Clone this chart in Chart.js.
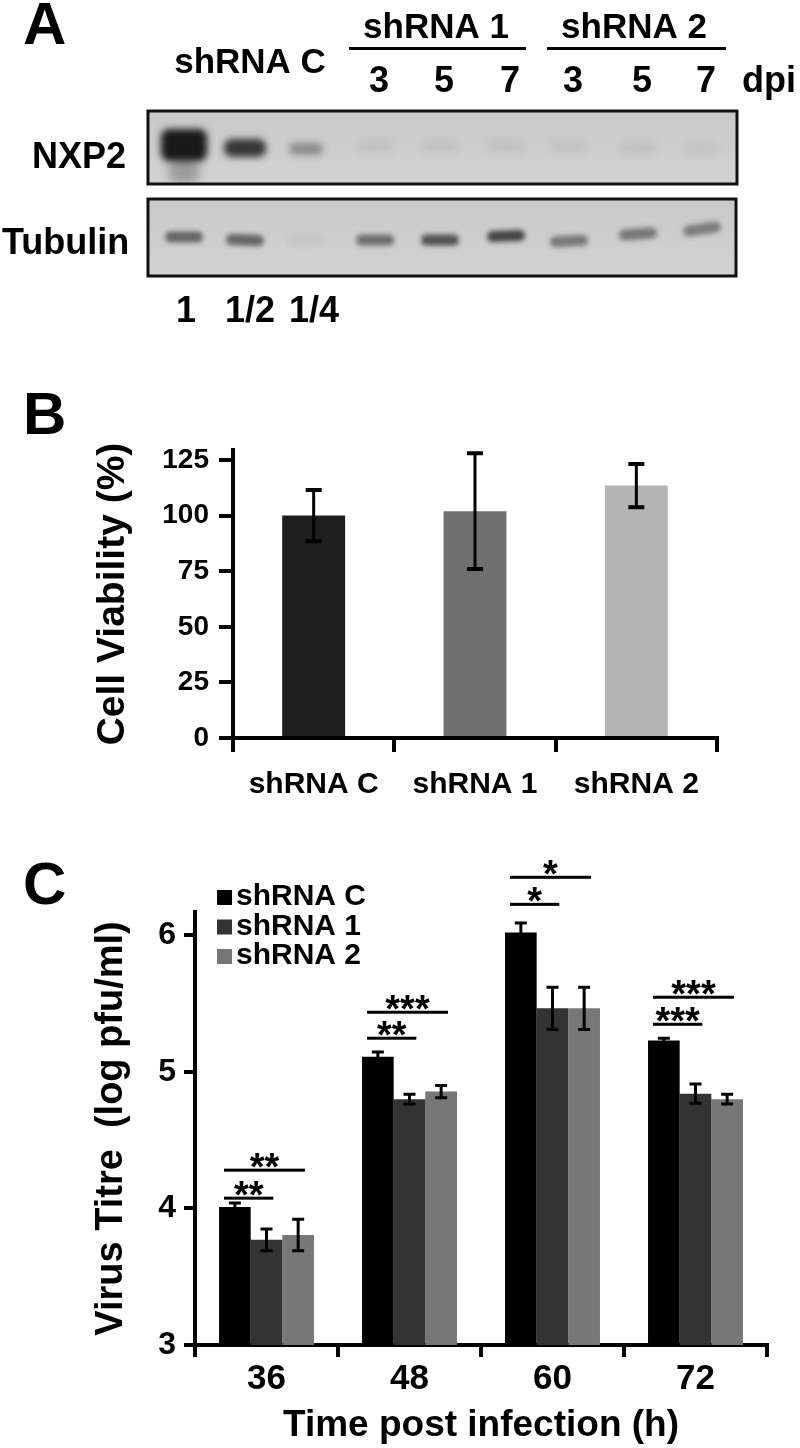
<!DOCTYPE html>
<html>
<head>
<meta charset="utf-8">
<script src="https://cdn.jsdelivr.net/npm/chart.js@4.4.0/dist/chart.umd.min.js"></script>
<style>
  body { margin: 0; background: #fff; width: 800px; height: 1448px; position: relative; overflow: hidden;
         font-family: 'Liberation Sans', Arial, sans-serif; }
  .panel { position: absolute; left: 23px; font-weight: bold; font-size: 60px; line-height: 1; color: #000; }
  canvas { position: absolute; left: 0; }
</style>
</head>
<body>
<div class="panel" style="top:-6px">A</div>
<div class="panel" style="top:384px">B</div>
<div class="panel" style="top:854px">C</div>
<canvas id="blot" width="800" height="340" style="top:0"></canvas>
<canvas id="viabilityChart" width="800" height="440" style="top:380px"></canvas>
<canvas id="titreChart" width="800" height="608" style="top:840px"></canvas>
<script>
// Panel A - western blot band strengths (0 = none, 1 = saturated)
const blotLanes = ['1', '1/2', '1/4', '3', '5', '7', '3', '5', '7'];
const nxp2Strength = [1.0, 0.8, 0.35, 0.06, 0.06, 0.06, 0.05, 0.06, 0.05];
const tubulinStrength = [0.55, 0.55, 0.04, 0.5, 0.65, 0.72, 0.45, 0.45, 0.42];

// Panel B - cell viability
const viabilityLabels = ['shRNA C', 'shRNA 1', 'shRNA 2'];
const viabilityMeans = [100, 102, 113.5];
const viabilityErrors = [11.5, 26, 9.7];
const viabilityTicks = [0, 25, 50, 75, 100, 125];

// Panel C - virus titre
const timeLabels = ['36', '48', '60', '72'];
const seriesNames = ['shRNA C', 'shRNA 1', 'shRNA 2'];
const titreC = [4.01, 5.11, 6.02, 5.23];
const titre1 = [3.77, 4.80, 5.465, 4.84];
const titre2 = [3.805, 4.855, 5.465, 4.80];
const errC = [0.03, 0.035, 0.07, 0.015];
const err1 = [0.08, 0.035, 0.155, 0.07];
const err2 = [0.115, 0.045, 0.155, 0.035];
const titreTicks = [3, 4, 5, 6];
// significance brackets (y in log pfu/ml)
const sigShortY = [4.075, 5.246, 6.226, 5.348];
const sigLongY = [4.28, 5.436, 6.424, 5.546];
const sigShortStars = ['**', '**', '*', '***'];
const sigLongStars = ['**', '***', '*', '***'];

const FONT = "'Liberation Sans', Arial, sans-serif";
Chart.defaults.font.family = FONT;
Chart.defaults.font.weight = 'bold';
Chart.defaults.color = '#000';

// ---------- Panel A ----------
function drawBlot() {
    const ctx = document.getElementById('blot').getContext('2d');
    const laneX = [184, 245, 306, 375, 440, 506, 569, 638, 702];
    const nxpY = [145, 148, 149, 147, 147, 147, 147, 148, 149];
    const nxpW = [46, 42, 34, 38, 38, 38, 38, 38, 36];
    const nxpH = [32, 18, 12, 14, 14, 14, 14, 14, 14];
    const tubY = [237, 240, 240, 240, 240, 236, 241, 234, 229];
    const tubTilt = [0, 0.03, 0, 0, 0, -0.03, -0.05, -0.08, -0.15];

    ctx.fillStyle = '#000';
    ctx.textAlign = 'center';
    ctx.textBaseline = 'alphabetic';
    ctx.font = 'bold 35px ' + FONT;
    ctx.fillText('shRNA C', 250, 73);
    ctx.fillText('shRNA 1', 436, 38);
    ctx.fillText('shRNA 2', 634, 38);
    ctx.fillRect(349, 47, 177, 3);
    ctx.fillRect(547, 47, 179, 3);

    ctx.font = 'bold 36px ' + FONT;
    for (let i = 3; i < 9; i++) ctx.fillText(blotLanes[i], laneX[i] + 4, 92);
    ctx.textAlign = 'left';
    ctx.fillText('dpi', 742, 92);
    ctx.fillText('NXP2', 32, 168);
    ctx.fillText('Tubulin', 2, 254);
    ctx.textAlign = 'center';
    for (let i = 0; i < 3; i++) ctx.fillText(blotLanes[i], laneX[i] + 2 + i * 3, 322);

    function membrane(x, y, w, h, draw) {
        ctx.save();
        const g = ctx.createLinearGradient(0, y, 0, y + h);
        g.addColorStop(0, '#c9c9c9');
        g.addColorStop(1, '#d2d2d2');
        ctx.fillStyle = g;
        ctx.fillRect(x, y, w, h);
        ctx.beginPath();
        ctx.rect(x, y, w, h);
        ctx.clip();
        draw();
        ctx.restore();
        ctx.lineWidth = 3;
        ctx.strokeStyle = '#111';
        ctx.strokeRect(x, y, w, h);
    }

    function band(x, y, w, h, alpha, blur, rot) {
        ctx.save();
        ctx.filter = 'blur(' + blur + 'px)';
        ctx.fillStyle = 'rgba(15,15,15,' + alpha + ')';
        ctx.translate(x, y);
        ctx.rotate(rot || 0);
        ctx.beginPath();
        ctx.roundRect(-w / 2, -h / 2, w, h, Math.min(h / 2, 8));
        ctx.fill();
        ctx.restore();
    }

    membrane(148, 111, 589, 73, () => {
        // smear under the first lane
        band(laneX[0], 170, 30, 26, 0.28 * nxp2Strength[0], 5);
        nxp2Strength.forEach((s, i) => {
            band(laneX[i], nxpY[i], nxpW[i], nxpH[i], Math.min(0.95, s), 3.5);
        });
    });

    membrane(148, 199, 588, 77, () => {
        tubulinStrength.forEach((s, i) => {
            band(laneX[i], tubY[i], 38, 11, s, 2.5, tubTilt[i]);
        });
    });
}
drawBlot();

// ---------- shared plugins ----------
const errorBarPlugin = {
    id: 'errorBars',
    afterDatasetsDraw(chart, args, opts) {
        const ctx = chart.ctx;
        const yScale = chart.scales.y;
        chart.data.datasets.forEach((ds, i) => {
            const meta = chart.getDatasetMeta(i);
            meta.data.forEach((bar, j) => {
                const v = ds.data[j];
                const e = ds.errors[j];
                const top = yScale.getPixelForValue(v + e);
                const bot = yScale.getPixelForValue(v - e);
                ctx.save();
                ctx.strokeStyle = '#000';
                ctx.lineWidth = opts.stem;
                ctx.beginPath();
                ctx.moveTo(bar.x, top);
                ctx.lineTo(bar.x, bot);
                ctx.stroke();
                ctx.lineWidth = opts.cap;
                ctx.beginPath();
                ctx.moveTo(bar.x - opts.half, top);
                ctx.lineTo(bar.x + opts.half, top);
                ctx.moveTo(bar.x - opts.half, bot);
                ctx.lineTo(bar.x + opts.half, bot);
                ctx.stroke();
                ctx.restore();
            });
        });
    }
};

// ---------- Panel B ----------
new Chart(document.getElementById('viabilityChart'), {
    type: 'bar',
    data: {
        labels: viabilityLabels,
        datasets: [{
            data: viabilityMeans,
            errors: viabilityErrors,
            backgroundColor: ['#1e1e1e', '#707070', '#b4b4b4'],
            barPercentage: 0.39,
            categoryPercentage: 1
        }]
    },
    options: {
        responsive: false,
        animation: false,
        events: [],
        layout: { padding: { left: 0, right: 83, top: 70, bottom: 0 } },
        plugins: {
            legend: { display: false },
            tooltip: { enabled: false },
            errorBars: { stem: 3, cap: 4, half: 8 }
        },
        scales: {
            x: {
                offset: true,
                grid: {
                    offset: true,
                    drawOnChartArea: false,
                    tickLength: 14,
                    lineWidth: 4,
                    color: c => c.index === viabilityLabels.length ? 'rgba(0,0,0,0)' : '#000'
                },
                border: { display: true, width: 4, color: '#000' },
                ticks: { font: { size: 30, weight: 'bold' }, color: '#000', padding: 15 },
                afterFit: s => { s.height = 82; }
            },
            y: {
                min: 0,
                max: 129.5,
                grid: { drawOnChartArea: false, tickLength: 14, lineWidth: 4, color: '#000' },
                border: { display: true, width: 4, color: '#000' },
                ticks: { font: { size: 28, weight: 'bold' }, color: '#000', padding: 10 },
                afterBuildTicks: s => { s.ticks = viabilityTicks.map(v => ({ value: v })); },
                title: {
                    display: true,
                    text: 'Cell Viability (%)',
                    font: { size: 39, weight: 'bold' },
                    color: '#000',
                    padding: { top: 90, bottom: 0 }
                },
                afterFit: s => { s.width = 233; }
            }
        }
    },
    plugins: [errorBarPlugin]
});

// ---------- Panel C ----------
const significancePlugin = {
    id: 'significance',
    afterDraw(chart) {
        const ctx = chart.ctx;
        const yScale = chart.scales.y;
        const m0 = chart.getDatasetMeta(0).data;
        const m1 = chart.getDatasetMeta(1).data;
        const m2 = chart.getDatasetMeta(2).data;
        ctx.save();
        ctx.fillStyle = '#000';
        ctx.textAlign = 'center';
        ctx.textBaseline = 'alphabetic';
        ctx.font = 'bold 38px ' + FONT;
        timeLabels.forEach((t, j) => {
            const x0 = m0[j].x - m0[j].width / 2 + 5;
            const xs = m1[j].x + m1[j].width / 2 - 9;
            const xl = m2[j].x + m2[j].width / 2 - 9;
            [[sigShortY[j], xs, sigShortStars[j]], [sigLongY[j], xl, sigLongStars[j]]].forEach(([v, x1, stars]) => {
                const y = yScale.getPixelForValue(v);
                ctx.fillRect(x0, y - 1.5, x1 - x0, 3);
                ctx.fillText(stars, (x0 + x1) / 2, y + 10);
            });
        });
        ctx.restore();
    }
};

const legendPlugin = {
    id: 'boxLegend',
    afterDraw(chart) {
        const ctx = chart.ctx;
        ctx.save();
        ctx.font = 'bold 30px ' + FONT;
        ctx.textBaseline = 'middle';
        ctx.textAlign = 'left';
        chart.data.datasets.forEach((ds, i) => {
            const cy = 57 + i * 29.5;
            ctx.fillStyle = ds.backgroundColor;
            ctx.fillRect(217, cy - 7, 15, 15);
            ctx.fillStyle = '#000';
            ctx.fillText(ds.label, 236, cy);
        });
        ctx.restore();
    }
};

new Chart(document.getElementById('titreChart'), {
    type: 'bar',
    data: {
        labels: timeLabels,
        datasets: [
            { label: seriesNames[0], data: titreC, errors: errC, backgroundColor: '#000000' },
            { label: seriesNames[1], data: titre1, errors: err1, backgroundColor: '#333333' },
            { label: seriesNames[2], data: titre2, errors: err2, backgroundColor: '#777777' }
        ]
    },
    options: {
        responsive: false,
        animation: false,
        events: [],
        layout: { padding: { left: 0, right: 33, top: 72, bottom: 0 } },
        datasets: { bar: { barPercentage: 1, categoryPercentage: 0.664 } },
        plugins: {
            legend: { display: false },
            tooltip: { enabled: false },
            errorBars: { stem: 3, cap: 3, half: 6 }
        },
        scales: {
            x: {
                offset: true,
                grid: { offset: true, drawOnChartArea: false, tickLength: 12, lineWidth: 4, color: '#000' },
                border: { display: true, width: 4, color: '#000' },
                ticks: { font: { size: 35, weight: 'bold' }, color: '#000', padding: 1 },
                title: {
                    display: true,
                    text: 'Time post infection (h)',
                    font: { size: 37, weight: 'bold' },
                    color: '#000',
                    padding: { top: 0, bottom: 0 }
                },
                afterFit: s => { s.height = 103; }
            },
            y: {
                min: 3,
                max: 6.17,
                grid: { drawOnChartArea: false, tickLength: 11, lineWidth: 4, color: '#000' },
                border: { display: true, width: 4, color: '#000' },
                ticks: { font: { size: 32, weight: 'bold' }, color: '#000', padding: 8 },
                afterBuildTicks: s => { s.ticks = titreTicks.map(v => ({ value: v })); },
                title: {
                    display: true,
                    text: 'Virus Titre  (log pfu/ml)',
                    font: { size: 38, weight: 'bold' },
                    color: '#000',
                    padding: { top: 89, bottom: 0 }
                },
                afterFit: s => { s.width = 195; }
            }
        }
    },
    plugins: [errorBarPlugin, significancePlugin, legendPlugin]
});
</script>
</body>
</html>
